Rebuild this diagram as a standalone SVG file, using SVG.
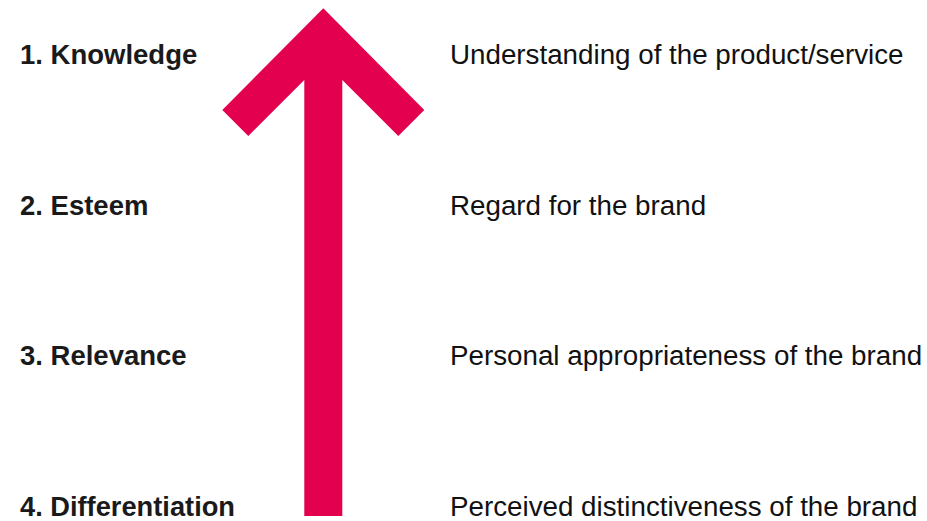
<svg xmlns="http://www.w3.org/2000/svg" width="927" height="521" viewBox="0 0 927 521">
<style>
.lbl{font-family:"Liberation Sans",Arial,sans-serif;font-size:27.5px;font-weight:bold;fill:#1a1a1a}
.desc{font-family:"Liberation Sans",Arial,sans-serif;font-size:27.75px;fill:#111}
</style>
<rect width="927" height="521" fill="#fff"/>
<g id="arrow">
<polygon points="323.3,8.3 424.3,110 398.3,136 342.3,80 342.3,516 304.3,516 304.3,80 248.3,136 222.3,110" fill="#E2004F"/>
</g>
<g id="row1"><text class="lbl" x="20" y="64">1. Knowledge</text><text class="desc" x="450" y="64">Understanding of the product/service</text></g>
<g id="row2"><text class="lbl" x="20" y="215">2. Esteem</text><text class="desc" x="450" y="215">Regard for the brand</text></g>
<g id="row3"><text class="lbl" x="20" y="365">3. Relevance</text><text class="desc" x="450" y="365">Personal appropriateness of the brand</text></g>
<g id="row4"><text class="lbl" x="20" y="516" textLength="215" lengthAdjust="spacingAndGlyphs">4. Differentiation</text><text class="desc" x="450" y="516">Perceived distinctiveness of the brand</text></g>
<g id="connectors"></g>
</svg>
